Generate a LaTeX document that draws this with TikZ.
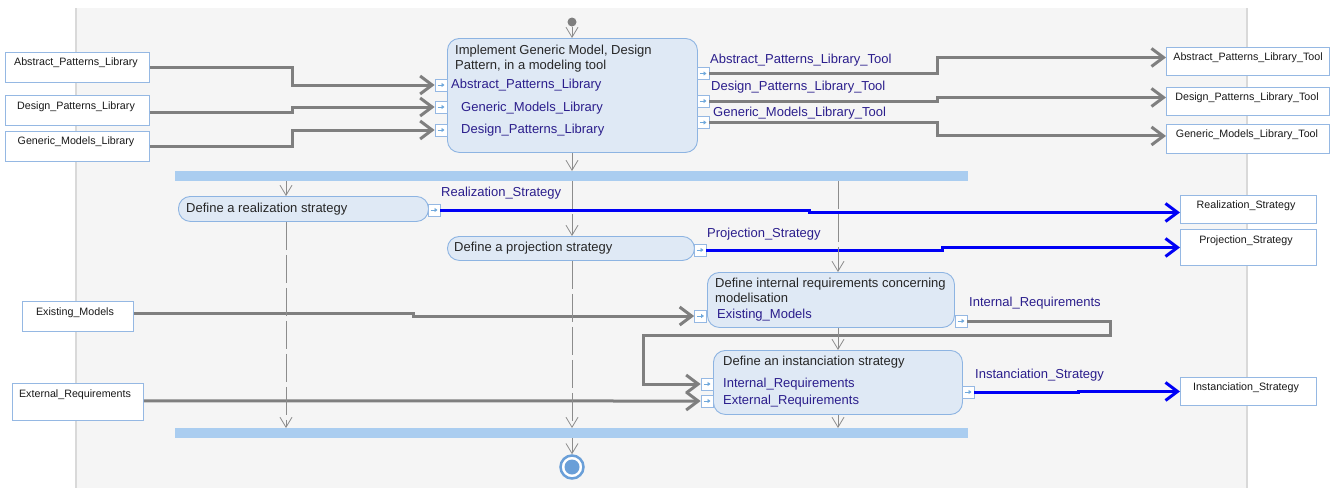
\documentclass[tikz,border=0pt]{standalone}
\usepackage{fontspec}
\setmainfont{Liberation Sans}
\usetikzlibrary{arrows.meta,calc}
\definecolor{panel}{HTML}{F5F5F5}
\definecolor{panelline}{HTML}{D9D9D9}
\definecolor{actfill}{HTML}{DFE9F5}
\definecolor{actborder}{HTML}{8DB4E2}
\definecolor{objborder}{HTML}{95B8E3}
\definecolor{barfill}{HTML}{AACDF0}
\definecolor{flowgray}{HTML}{7F7F7F}
\definecolor{ctrlgray}{HTML}{8C8C8C}
\definecolor{flowblue}{HTML}{0000F5}
\definecolor{labelcol}{HTML}{2B1E8C}
\definecolor{pinarrow}{HTML}{6FA8DC}
\definecolor{finalc}{HTML}{6A9FD8}
\newcommand\pinat[3]{%
  \node[pinbox] (#1) at (#2,#3) {};
  \draw[pinarr] ([xshift=-3.5pt]#1.center) -- ([xshift=3.5pt]#1.center);}
\begin{document}
\begin{tikzpicture}[x=1pt,y=-1pt,
  act/.style={draw=actborder, fill=actfill, rounded corners=12pt, line width=0.9pt, inner sep=0pt, anchor=north west},
  obj/.style={draw=objborder, fill=white, line width=0.9pt, inner sep=0pt, anchor=north west},
  bar/.style={fill=barfill, draw=none, inner sep=0pt, anchor=north west},
  pinbox/.style={draw=objborder, fill=white, minimum size=12pt, inner sep=0pt, line width=0.7pt},
  pinarr/.style={draw=pinarrow, line width=1pt, -{Triangle[length=3pt,width=4pt]}},
  flow/.style={draw=flowgray, line width=3pt, -{Straight Barb[length=12pt,width=18pt]}},
  bflow/.style={draw=flowblue, line width=3pt, -{Straight Barb[length=12pt,width=18pt]}},
  ctrl/.style={draw=ctrlgray, line width=0.8pt, -{Straight Barb[length=10pt,width=12pt]}},
  ctrld/.style={ctrl, dash pattern=on 28pt off 5pt},
  acttext/.style={font=\fontsize{13}{15}\selectfont, text=black!85, inner sep=0pt, anchor=west, align=left},
  pintext/.style={font=\fontsize{13}{15}\selectfont, text=labelcol, inner sep=0pt, anchor=west},
  objtext/.style={font=\fontsize{10.7}{12}\selectfont, text=black!90, inner sep=0pt}
]
\useasboundingbox (0,0) rectangle (1336,488);
\fill[white] (0,0) rectangle (1336,488);
\fill[panel] (76,8) rectangle (1247,488);
\draw[panelline, line width=1.2pt] (76,8) -- (76,488) (1247,8) -- (1247,488);

% actions
\node[act, minimum width=250pt, minimum height=114pt] (a1) at (447,38) {};
\node[act, minimum width=250pt, minimum height=25pt] (real) at (178,196) {};
\node[act, minimum width=247pt, minimum height=24pt] (proj) at (447,236) {};
\node[act, minimum width=247pt, minimum height=55pt] (intr) at (707,272) {};
\node[act, minimum width=249pt, minimum height=64pt] (inst) at (713,350) {};

% bars
\node[bar, minimum width=793pt, minimum height=10pt] (fork) at (175,171) {};
\node[bar, minimum width=793pt, minimum height=10pt] (join) at (175,428) {};

% object nodes
\node[obj, minimum width=144pt, minimum height=30pt] (apl) at (5,52) {};
\node[obj, minimum width=144pt, minimum height=30pt] (dpl) at (5,95) {};
\node[obj, minimum width=144pt, minimum height=30pt] (gml) at (5,131) {};
\node[obj, minimum width=163pt, minimum height=28pt] (aplt) at (1166,47) {};
\node[obj, minimum width=163pt, minimum height=28pt] (dplt) at (1166,87) {};
\node[obj, minimum width=163pt, minimum height=29pt] (gmlt) at (1166,124) {};
\node[obj, minimum width=136pt, minimum height=28pt] (rs) at (1180,195) {};
\node[obj, minimum width=136pt, minimum height=36pt] (ps) at (1180,229) {};
\node[obj, minimum width=136pt, minimum height=28pt] (is) at (1180,377) {};
\node[obj, minimum width=111pt, minimum height=30pt] (em) at (22,301) {};
\node[obj, minimum width=131pt, minimum height=37pt] (er) at (12,383) {};

% object texts
\node[objtext] (tapl) at (76,63) {Abstract\_Patterns\_Library};
\node[objtext] (tdpl) at (76,107) {Design\_Patterns\_Library};
\node[objtext] (tgml) at (76,142) {Generic\_Models\_Library};
\node[objtext] (taplt) at (1248,58) {Abstract\_Patterns\_Library\_Tool};
\node[objtext] (tdplt) at (1247,98) {Design\_Patterns\_Library\_Tool};
\node[objtext] (tgmlt) at (1247,135) {Generic\_Models\_Library\_Tool};
\node[objtext] (trs) at (1246,206) {Realization\_Strategy};
\node[objtext] (tps) at (1246,241) {Projection\_Strategy};
\node[objtext] (tis) at (1246,388) {Instanciation\_Strategy};
\node[objtext] (tem) at (75,313) {Existing\_Models};
\node[objtext] (ter) at (75,395) {External\_Requirements};

% action texts
\node[acttext, anchor=north west] (ta1) at (455,45) {Implement Generic Model, Design\\Pattern, in a modeling tool};
\node[acttext] (treal) at (186,209) {Define a realization strategy};
\node[acttext] (tproj) at (454,248) {Define a projection strategy};
\node[acttext, anchor=north west] (tintr) at (715,278) {Define internal requirements concerning\\modelisation};
\node[acttext] (tinst) at (723,362) {Define an instanciation strategy};

% pin labels
\node[pintext] (la1) at (451,85) {Abstract\_Patterns\_Library};
\node[pintext] (la2) at (461,108) {Generic\_Models\_Library};
\node[pintext] (la3) at (461,130) {Design\_Patterns\_Library};
\node[pintext] (lo1) at (710,60) {Abstract\_Patterns\_Library\_Tool};
\node[pintext] (lo2) at (711,87) {Design\_Patterns\_Library\_Tool};
\node[pintext] (lo3) at (713,113) {Generic\_Models\_Library\_Tool};
\node[pintext] (lrs) at (441,193) {Realization\_Strategy};
\node[pintext] (lps) at (707,234) {Projection\_Strategy};
\node[pintext] (lem) at (717,315) {Existing\_Models};
\node[pintext] (lir) at (969,303) {Internal\_Requirements};
\node[pintext] (lir2) at (723,384) {Internal\_Requirements};
\node[pintext] (ler) at (723,401) {External\_Requirements};
\node[pintext] (lis) at (975,375) {Instanciation\_Strategy};

% pins
\pinat{pa1}{441}{85}
\pinat{pa2}{441}{107}
\pinat{pa3}{441}{130}
\pinat{qa1}{703}{73.5}
\pinat{qa2}{703}{101}
\pinat{qa3}{703}{122.5}
\pinat{qr}{434}{210}
\pinat{qp}{700}{250}
\pinat{pi}{700.5}{316}
\pinat{qi}{961}{321}
\pinat{pn1}{707}{384}
\pinat{pn2}{707}{401}
\pinat{qn}{968}{392}

% object flows
\draw[flow] (apl.east) -- ++(143,0) |- (pa1.west);
\draw[flow] ([yshift=-2pt]dpl.east) -- ++(143,0) |- (pa2.west);
\draw[flow] (gml.east) -- ++(143,0) |- (pa3.west);
\draw[flow] (qa1.east) -- ++(228,0) |- ([yshift=4pt]aplt.west);
\draw[flow] (qa2.east) -- ++(228,0) |- ([yshift=4pt]dplt.west);
\draw[flow] (qa3.east) -- ++(228,0) |- ([yshift=3pt]gmlt.west);
\draw[bflow] (qr.east) -- ++(369,0) |- ([yshift=-3pt]rs.west);
\draw[bflow] (qp.east) -- ++(236,0) |- (ps.west);
\draw[flow] ([yshift=3pt]em.east) -- ++(280,0) |- (pi.west);
\draw[flow] (qi.east) -- ++(143,0) -- ++(0,14) -- ++(-467,0) |- (pn1.west);
\draw[flow] ([yshift=1pt]er.east) -- (pn2.west);
\draw[bflow] (qn.east) -- ++(104,0) |- (is.west);

% initial and final nodes
\node[circle, fill=flowgray, minimum size=9pt, inner sep=0pt] (init) at (572,22) {};
\node[circle, draw=finalc, line width=2.5pt, fill=white, minimum size=23pt, inner sep=0pt] (fin) at (572,467) {};
\node[circle, fill=finalc, minimum size=15pt, inner sep=0pt] (fin2) at (fin.center) {};

% control flows
\coordinate (c286) at (286,0);
\coordinate (c572) at (572,0);
\coordinate (c838) at (838,0);
\draw[ctrl] (init) -- (a1.north -| init);
\draw[ctrl] (a1.south -| c572) -- (fork.north -| c572);
\draw[ctrl] (fork.south -| c286) -- (real.north -| c286);
\draw[ctrld] (fork.south -| c572) -- (proj.north -| c572);
\draw[ctrld] (fork.south -| c838) -- (intr.north -| c838);
\draw[ctrl] (intr.south -| c838) -- (inst.north -| c838);
\draw[ctrld] (real.south -| c286) -- (join.north -| c286);
\draw[ctrld] (proj.south -| c572) -- (join.north -| c572);
\draw[ctrl] (inst.south -| c838) -- (join.north -| c838);
\draw[ctrl] (join.south -| c572) -- (fin.north);
\end{tikzpicture}
\end{document}
